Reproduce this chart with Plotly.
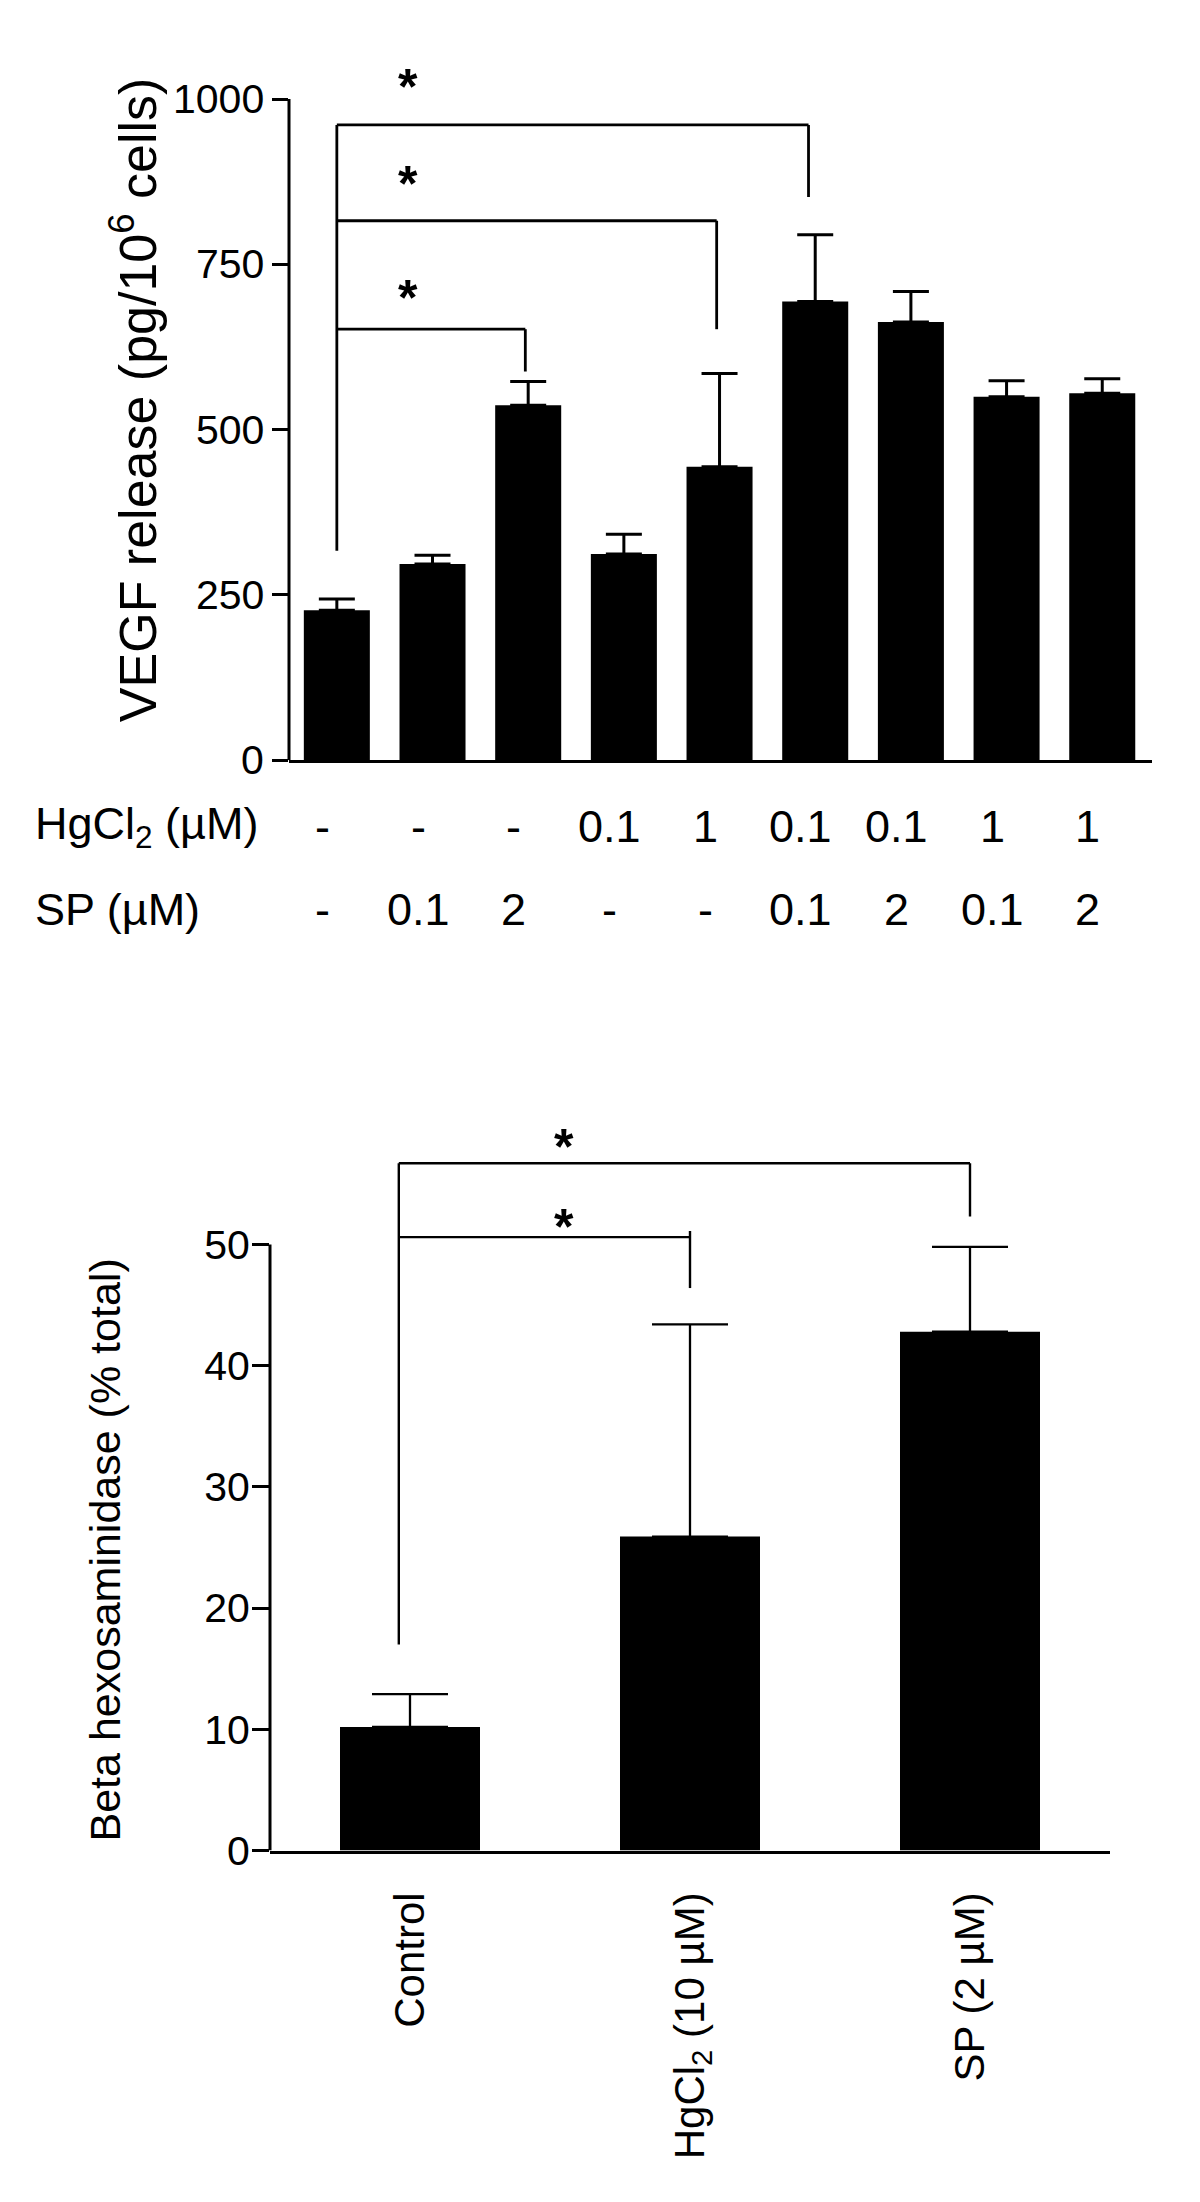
import plotly.graph_objects as go

# page is 1200x2202; the html body keeps an 8px margin, and the capture squeezes
# the page slightly in height, so positions are given in target pixels and mapped.
PAGE_W, PAGE_H = 1200, 2202
OFF = 8
SY = 2202 / 2226.0
W, H = PAGE_W - 2 * OFF, PAGE_H - 2 * OFF

# ---------------- data ----------------
vegf_mean = [227, 297, 537, 312, 444, 694, 663, 550, 555]
vegf_err = [17, 13, 36, 30, 141, 101, 46, 24, 22]
hg_labels = ["-", "-", "-", "0.1", "1", "0.1", "0.1", "1", "1"]
sp_labels = ["-", "0.1", "2", "-", "-", "0.1", "2", "0.1", "2"]
vegf_ticks = [0, 250, 500, 750, 1000]
# significance brackets (top): right end category, bar height, drop bottom, star height
top_br_right = [1.97, 3.97, 4.93]
top_br_level = [652, 816, 961]
top_br_drop = [588, 652, 852]
top_star_y = [714, 886, 1033]
top_br_left_bottom = 317

hex_groups = ["Control", "HgCl<sub>2</sub> (10 µM)", "SP (2 µM)"]
hex_mean = [10.2, 25.9, 42.8]
hex_err = [2.7, 17.5, 7.0]
hex_ticks = [0, 10, 20, 30, 40, 50]
bot_br_right = [1.0, 2.0]
bot_br_level = [50.6, 56.7]
bot_br_drop = [46.4, 52.3]
bot_br_top = [51.1, 56.7]
bot_star_y = [52.4, 59.0]
bot_br_left_bottom = 17.0

# ---------------- layout helpers (target pixel -> paper) ----------------
def px(x):
    return (x - OFF) / W

def py(y):
    return 1 - (y / SY - OFF) / H

BLACK = "black"
ARIAL = "Liberation Sans, Arial, sans-serif"

# top panel geometry (target pixels)
t_x0, t_x1 = 289, 1152
t_y0 = 760
t_scale = (760 - 99) / 1000.0
t_ymax = 1075
t_ytop = t_y0 - t_ymax * t_scale

# bottom panel geometry
b_x0, b_x1 = 270, 1110
b_y0 = 1850
b_scale = (1850 - 1244) / 50.0
b_ymax = 62
b_ytop = b_y0 - b_ymax * b_scale

fig = go.Figure()

fig.add_trace(go.Bar(
    x=list(range(len(vegf_mean))), y=vegf_mean, width=0.69,
    marker=dict(color=BLACK, line=dict(width=0)),
    error_y=dict(type="data", array=vegf_err, symmetric=False,
                 arrayminus=[0] * len(vegf_err), color=BLACK,
                 thickness=3, width=18),
    xaxis="x", yaxis="y", showlegend=False,
))

fig.add_trace(go.Bar(
    x=list(range(len(hex_mean))), y=hex_mean, width=0.5,
    marker=dict(color=BLACK, line=dict(width=0)),
    error_y=dict(type="data", array=hex_err, symmetric=False,
                 arrayminus=[0] * len(hex_err), color=BLACK,
                 thickness=2.3, width=38),
    xaxis="x2", yaxis="y2", showlegend=False,
))

shapes = []
annotations = []

# y-axis lines drawn only up to the top tick
shapes.append(dict(type="line", xref="x domain", yref="y", x0=0, x1=0,
                   y0=0, y1=vegf_ticks[-1], line=dict(color=BLACK, width=3)))
shapes.append(dict(type="line", xref="x2 domain", yref="y2", x0=0, x1=0,
                   y0=0, y1=hex_ticks[-1], line=dict(color=BLACK, width=3)))

# top y tick labels
for t in vegf_ticks:
    annotations.append(dict(xref="paper", yref="y", x=px(266), y=t,
                            xanchor="right", yanchor="middle", text=str(t),
                            showarrow=False,
                            font=dict(family=ARIAL, size=41, color=BLACK)))

star_font = dict(family=ARIAL, size=50, color=BLACK)

# top brackets
lw = 2.8
shapes.append(dict(type="line", xref="x", yref="y", x0=0, x1=0,
                   y0=top_br_left_bottom, y1=max(top_br_level),
                   line=dict(color=BLACK, width=lw)))
for r, lev, drop in zip(top_br_right, top_br_level, top_br_drop):
    shapes.append(dict(type="line", xref="x", yref="y", x0=0, x1=r,
                       y0=lev, y1=lev, line=dict(color=BLACK, width=lw)))
    shapes.append(dict(type="line", xref="x", yref="y", x0=r, x1=r,
                       y0=lev, y1=drop, line=dict(color=BLACK, width=lw)))
for sy in top_star_y:
    annotations.append(dict(xref="x", yref="y", x=0.74, y=sy, text="<b>*</b>",
                            showarrow=False, yshift=-10, font=star_font))

# bottom brackets
lw2 = 2.4
shapes.append(dict(type="line", xref="x2", yref="y2", x0=-0.04, x1=-0.04,
                   y0=bot_br_left_bottom, y1=max(bot_br_level),
                   line=dict(color=BLACK, width=lw2)))
for r, lev, drop, top in zip(bot_br_right, bot_br_level, bot_br_drop, bot_br_top):
    shapes.append(dict(type="line", xref="x2", yref="y2", x0=-0.04, x1=r,
                       y0=lev, y1=lev, line=dict(color=BLACK, width=lw2)))
    shapes.append(dict(type="line", xref="x2", yref="y2", x0=r, x1=r,
                       y0=top, y1=drop, line=dict(color=BLACK, width=lw2)))
for sy in bot_star_y:
    annotations.append(dict(xref="x2", yref="y2", x=0.55, y=sy, text="<b>*</b>",
                            showarrow=False, yshift=-12, font=star_font))

# treatment rows under top panel
row_font = dict(family=ARIAL, size=45, color=BLACK)
annotations.append(dict(xref="paper", yref="paper", x=px(33), y=py(826),
                        xanchor="left", yanchor="middle",
                        text="HgCl<sub>2</sub> (µM)", showarrow=False, font=row_font))
annotations.append(dict(xref="paper", yref="paper", x=px(33), y=py(909),
                        xanchor="left", yanchor="middle",
                        text="SP (µM)", showarrow=False, font=row_font))
for i, (h, s) in enumerate(zip(hg_labels, sp_labels)):
    annotations.append(dict(xref="x", yref="paper", x=i - 0.15, y=py(826),
                            xanchor="center", yanchor="middle", text=h,
                            showarrow=False, font=row_font))
    annotations.append(dict(xref="x", yref="paper", x=i - 0.15, y=py(909),
                            xanchor="center", yanchor="middle", text=s,
                            showarrow=False, font=row_font))

# axis titles
annotations.append(dict(xref="paper", yref="paper", x=px(134), y=py(400),
                        xanchor="center", yanchor="middle", textangle=-90,
                        text="VEGF release (pg/10<sup>6</sup> cells)", showarrow=False,
                        font=dict(family=ARIAL, size=52, color=BLACK)))
annotations.append(dict(xref="paper", yref="paper", x=px(105), y=py(1550),
                        xanchor="center", yanchor="middle", textangle=-90,
                        text="Beta hexosaminidase (% total)", showarrow=False,
                        font=dict(family=ARIAL, size=43, color=BLACK)))

fig.update_layout(
    width=W, height=H,
    margin=dict(l=0, r=0, t=0, b=0),
    paper_bgcolor="white", plot_bgcolor="white",
    shapes=shapes, annotations=annotations,
    xaxis=dict(domain=[px(t_x0), px(t_x1)], range=[-0.5, 8.52],
               showline=True, linecolor=BLACK, linewidth=3,
               showticklabels=False, ticks="", showgrid=False, zeroline=False,
               anchor="y", fixedrange=True),
    yaxis=dict(domain=[py(t_y0), py(t_ytop)], range=[0, t_ymax],
               showline=False, ticks="outside", ticklen=16, tickwidth=3,
               tickcolor=BLACK, tickvals=vegf_ticks, showticklabels=False,
               showgrid=False, zeroline=False, anchor="x"),
    xaxis2=dict(domain=[px(b_x0), px(b_x1)], range=[-0.5, 2.5],
                showline=True, linecolor=BLACK, linewidth=3,
                tickvals=list(range(len(hex_groups))), ticktext=hex_groups,
                tickangle=-90, ticks="", showgrid=False, zeroline=False,
                anchor="y2", ticklabelstandoff=22,
                tickfont=dict(family=ARIAL, size=42, color=BLACK)),
    yaxis2=dict(domain=[py(b_y0), py(b_ytop)], range=[0, b_ymax],
                showline=False, ticks="outside", ticklen=17, tickwidth=3,
                tickcolor=BLACK, tickvals=hex_ticks, showgrid=False,
                zeroline=False, anchor="x2", ticklabelstandoff=-6,
                tickfont=dict(family=ARIAL, size=41, color=BLACK)),
)

fig.write_html("out.html")
